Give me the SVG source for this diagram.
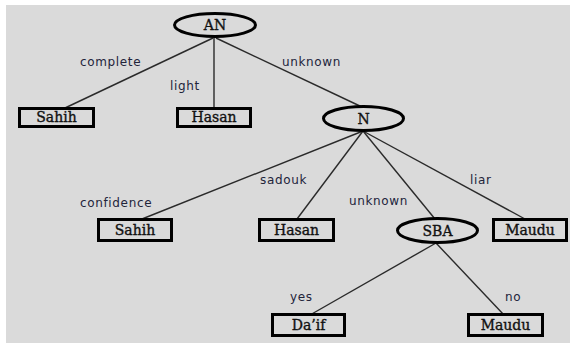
<svg xmlns="http://www.w3.org/2000/svg" width="574" height="347" viewBox="0 0 574 347">
  <style>
    .edge { stroke: #2a2a2a; stroke-width: 1.4; fill: none; }
    .leaf { fill: none; stroke: #000; stroke-width: 3; }
    .test { fill: none; stroke: #000; stroke-width: 3; }
    .name { font-family: "DejaVu Serif", "Liberation Serif", serif; font-size: 14px; fill: #111; stroke: #111; stroke-width: 0.35; text-anchor: middle; }
    .lbl { font-family: "DejaVu Sans", "Liberation Sans", sans-serif; font-size: 12px; fill: #22243a; letter-spacing: 0.65px; }
  </style>
  <rect x="0" y="0" width="574" height="347" fill="#ffffff"/>
  <rect x="6" y="5" width="564" height="338" fill="#dadada"/>

  <g id="connectors">
    <line class="edge" x1="213" y1="38" x2="65" y2="108"/>
    <line class="edge" x1="214" y1="38" x2="214" y2="108"/>
    <line class="edge" x1="216" y1="38" x2="362" y2="107"/>
    <line class="edge" x1="363" y1="131" x2="142" y2="219"/>
    <line class="edge" x1="363" y1="131" x2="297" y2="219"/>
    <line class="edge" x1="363" y1="131" x2="435" y2="219"/>
    <line class="edge" x1="363" y1="131" x2="525" y2="219"/>
    <line class="edge" x1="436" y1="243" x2="310" y2="315"/>
    <line class="edge" x1="436" y1="243" x2="504" y2="315"/>
    <text class="lbl" x="80" y="66">complete</text>
    <text class="lbl" x="170" y="90">light</text>
    <text class="lbl" x="282" y="66">unknown</text>
    <text class="lbl" x="80" y="207">confidence</text>
    <text class="lbl" x="260" y="184">sadouk</text>
    <text class="lbl" x="349" y="205">unknown</text>
    <text class="lbl" x="470" y="184">liar</text>
    <text class="lbl" x="290" y="301">yes</text>
    <text class="lbl" x="505" y="301">no</text>
  </g>

  <g id="an">
    <ellipse class="test" cx="215" cy="25" rx="40.5" ry="11.5"/>
    <text class="name" x="215" y="30">AN</text>
  </g>
  <g id="sahih1">
    <rect class="leaf" x="19.5" y="108.5" width="74" height="18"/>
    <text class="name" x="56.5" y="122">Sahih</text>
  </g>
  <g id="hasan1">
    <rect class="leaf" x="177.5" y="108.5" width="73" height="18"/>
    <text class="name" x="214" y="122">Hasan</text>
  </g>
  <g id="n">
    <ellipse class="test" cx="363.5" cy="118.5" rx="40" ry="12"/>
    <text class="name" x="363.5" y="123.5">N</text>
  </g>
  <g id="sahih2">
    <rect class="leaf" x="98.5" y="219.5" width="73" height="21"/>
    <text class="name" x="135" y="235">Sahih</text>
  </g>
  <g id="hasan2">
    <rect class="leaf" x="259.5" y="219.5" width="74" height="21"/>
    <text class="name" x="296.5" y="235">Hasan</text>
  </g>
  <g id="sba">
    <ellipse class="test" cx="437.5" cy="230.5" rx="40" ry="12"/>
    <text class="name" x="437.5" y="235.5">SBA</text>
  </g>
  <g id="maudu1">
    <rect class="leaf" x="493.5" y="219.5" width="73" height="21"/>
    <text class="name" x="530" y="235">Maudu</text>
  </g>
  <g id="daif">
    <rect class="leaf" x="272.5" y="314.5" width="72" height="21"/>
    <text class="name" x="308.5" y="330">Da’if</text>
  </g>
  <g id="maudu2">
    <rect class="leaf" x="468.5" y="314.5" width="74" height="21"/>
    <text class="name" x="505.5" y="330">Maudu</text>
  </g>
</svg>
